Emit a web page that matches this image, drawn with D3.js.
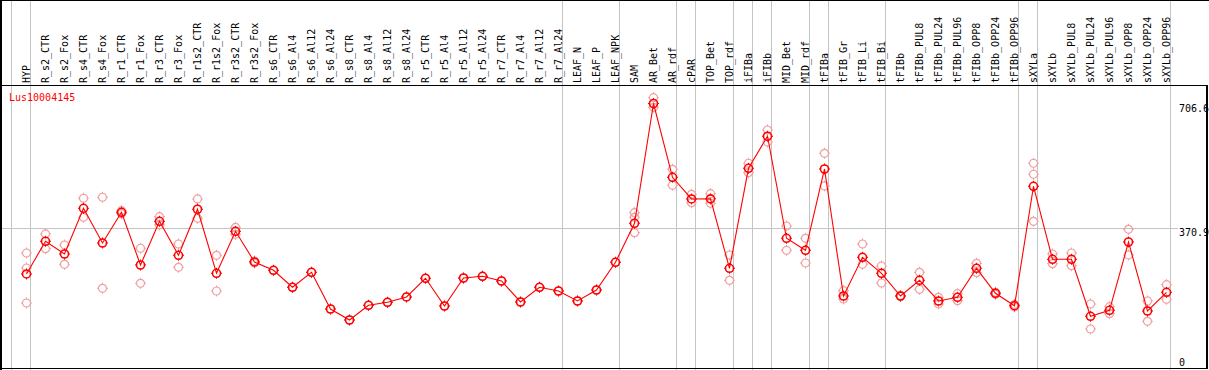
<!DOCTYPE html>
<html>
<head>
<meta charset="utf-8">
<script src="https://cdn.jsdelivr.net/npm/d3@7"></script>
<style>
  html, body { margin: 0; padding: 0; background: #fff; }
  svg { display: block; }
  text { font-family: "DejaVu Sans Mono", "Liberation Mono", monospace; }
</style>
</head>
<body>
<svg id="chart" width="1209" height="370"></svg>
<script>
const geneName = "Lus10004145";

const categories = [
  "HYP","R_s2_CTR","R_s2_Fox","R_s4_CTR","R_s4_Fox","R_r1_CTR","R_r1_Fox","R_r3_CTR","R_r3_Fox",
  "R_r1s2_CTR","R_r1s2_Fox","R_r3s2_CTR","R_r3s2_Fox","R_s6_CTR","R_s6_Al4","R_s6_Al12","R_s6_Al24",
  "R_s8_CTR","R_s8_Al4","R_s8_Al12","R_s8_Al24","R_r5_CTR","R_r5_Al4","R_r5_Al12","R_r5_Al24",
  "R_r7_CTR","R_r7_Al4","R_r7_Al12","R_r7_Al24","LEAF_N","LEAF_P","LEAF_NPK","SAM","AR_Bet","AR_rdf",
  "cPAR","TOP_Bet","TOP_rdf","iFIBa","iFIBb","MID_Bet","MID_rdf","tFIBa","tFIB_Gr","tFIB_Li","tFIB_Bi",
  "tFIBb","tFIBb_PUL8","tFIBb_PUL24","tFIBb_PUL96","tFIBb_OPP8","tFIBb_OPP24","tFIBb_OPP96",
  "sXYLa","sXYLb","sXYLb_PUL8","sXYLb_PUL24","sXYLb_PUL96","sXYLb_OPP8","sXYLb_OPP24","sXYLb_OPP96"
];

const meanValues = [
  247.7, 335.7, 301.5, 424.5, 331.1, 413.8, 271.9, 389.5, 298.0,
  421.9, 249.6, 362.6, 280.0, 257.6, 211.9, 252.2, 153.4,
  123.8, 163.4, 171.5, 185.8, 236.1, 161.5, 236.9, 241.5,
  228.8, 172.3, 211.9, 201.9, 175.0, 204.6, 279.2, 384.2, 706.6, 508.0,
  449.6, 450.0, 263.0, 532.2, 618.4, 343.8, 311.5, 530.3, 188.4, 292.6, 249.6,
  188.4, 230.7, 175.0, 184.9, 263.0, 195.7, 162.3,
  483.8, 287.2, 287.2, 133.8, 150.0, 333.8, 148.1, 198.4
];

const replicateValues = [
  [304.2, 263.8, 169.6], [355.4, 315.8], [325.7, 273.8], [451.5, 400.3], [454.2, 209.2],
  [418.0, 410.0], [316.9, 222.6], [401.9, 379.6], [328.4, 265.7],
  [449.6, 397.6], [298.0, 201.9], [373.4, 354.5], [282.7, 277.0],
  [257.6], [211.9], [252.2], [153.4],
  [123.8], [163.4], [171.5], [185.8], [236.1], [161.5], [236.9], [241.5],
  [228.8], [172.3], [211.9], [201.9], [175.0], [204.6], [279.2],
  [412.7, 400.3, 358.9], [722.3, 696.4], [529.5, 486.5],
  [462.2, 439.6], [463.8, 438.0], [298.8, 230.7], [545.7, 520.4], [635.3, 603.0],
  [376.9, 311.5], [343.8, 277.3], [572.6, 484.6], [202.7, 180.4], [328.4, 273.8], [269.2, 223.4],
  [190.0, 187.0], [252.2, 206.5], [184.9, 166.9], [194.6, 175.8], [276.5, 251.2], [198.4, 193.0], [166.0, 158.8],
  [545.7, 516.1, 389.5], [301.5, 275.4], [304.2, 270.0], [166.9, 99.6], [159.6, 140.8],
  [368.0, 298.8], [175.0, 120.3], [218.9, 179.6]
];

// categories after which a vertical separator is drawn ("" = before the first one)
const groupEnds = ["", "HYP", "R_r7_Al24", "LEAF_NPK", "AR_rdf", "cPAR", "TOP_rdf", "iFIBa",
  "iFIBb", "MID_rdf", "tFIBa", "tFIB_Bi", "tFIBb_OPP96", "sXYLa", "sXYLb_OPP96"];

const yTickValues = [706.6, 370.9, 0];
const yTickLabels = ["706.6", "370.9", "0"];

const W = 1209, H = 370;
const svg = d3.select("#chart");

const x = d3.scalePoint().domain(categories).range([26.5, 1166.5]);
const step = x.step();
const y = d3.scaleLinear().domain([0, 706.6]).range([366, 103.5]);

const headerBottom = 85;

// vertical separators
const sepX = d => (d === "" ? x(categories[0]) - step : x(d)) + step * 0.2;
svg.append("g").selectAll("line").data(groupEnds).join("line")
  .attr("x1", d => Math.round(sepX(d)) + 0.5).attr("x2", d => Math.round(sepX(d)) + 0.5)
  .attr("y1", 0).attr("y2", H)
  .attr("stroke", "#c4c4c4").attr("stroke-width", 1);

// horizontal reference line at middle tick
svg.append("line")
  .attr("x1", 2).attr("x2", 1178)
  .attr("y1", Math.round(y(370.9)) + 0.5).attr("y2", Math.round(y(370.9)) + 0.5)
  .attr("stroke", "#c4c4c4").attr("stroke-width", 1);

// borders
svg.append("line").attr("x1", 0).attr("x2", W).attr("y1", 0.5).attr("y2", 0.5)
  .attr("stroke", "#000").attr("stroke-width", 1);
svg.append("line").attr("x1", 0).attr("x2", 1208).attr("y1", headerBottom + 0.5).attr("y2", headerBottom + 0.5)
  .attr("stroke", "#000").attr("stroke-width", 1);
svg.append("line").attr("x1", 1).attr("x2", 1).attr("y1", 0).attr("y2", H)
  .attr("stroke", "#000").attr("stroke-width", 2);
svg.append("line").attr("x1", 1207).attr("x2", 1207).attr("y1", headerBottom).attr("y2", 369)
  .attr("stroke", "#000").attr("stroke-width", 2);
svg.append("line").attr("x1", 0).attr("x2", 1208).attr("y1", 368.5).attr("y2", 368.5)
  .attr("stroke", "#000").attr("stroke-width", 1);

// category labels (rotated)
svg.append("g").selectAll("text").data(categories).join("text")
  .attr("transform", d => `translate(${x(d) + 3.5},${headerBottom - 2}) rotate(-90)`)
  .attr("font-size", 10)
  .attr("fill", "#000")
  .text(d => d);

// gene name
svg.append("text").attr("x", 9).attr("y", 101)
  .attr("font-size", 10).attr("fill", "#ff0000").text(geneName);

// y tick labels on the right
svg.append("g").selectAll("text").data(yTickValues).join("text")
  .attr("x", 1179)
  .attr("y", d => Math.min(y(d), 358) + 8)
  .attr("font-size", 10).attr("fill", "#000")
  .text((d, i) => yTickLabels[i]);

// marker helper
function marker(g, r, color, sw) {
  g.append("circle").attr("r", r).attr("fill", "none").attr("stroke", color).attr("stroke-width", sw);
  const t = [[0, -r - 1.5, 0, -r + 0.5], [0, r - 0.5, 0, r + 1.5], [-r - 1.5, 0, -r + 0.5, 0], [r - 0.5, 0, r + 1.5, 0]];
  t.forEach(a => g.append("line").attr("x1", a[0]).attr("y1", a[1]).attr("x2", a[2]).attr("y2", a[3])
    .attr("stroke", color).attr("stroke-width", 1));
}

// replicates
const reps = [];
categories.forEach((c, i) => replicateValues[i].forEach(v => reps.push({ c, v })));
svg.append("g").selectAll("g").data(reps).join("g")
  .attr("transform", d => `translate(${x(d.c)},${y(d.v)})`)
  .each(function () { marker(d3.select(this), 4, "#f0a0a0", 1.2); });

// mean line
const line = d3.line().x((d, i) => x(categories[i])).y(d => y(d));
svg.append("path").datum(meanValues).attr("d", line)
  .attr("fill", "none").attr("stroke", "#ff0000").attr("stroke-width", 1.1);

// mean markers
svg.append("g").selectAll("g").data(meanValues).join("g")
  .attr("transform", (d, i) => `translate(${x(categories[i])},${y(d)})`)
  .each(function () { marker(d3.select(this), 4, "#ff0000", 1.6); });
</script>
</body>
</html>
